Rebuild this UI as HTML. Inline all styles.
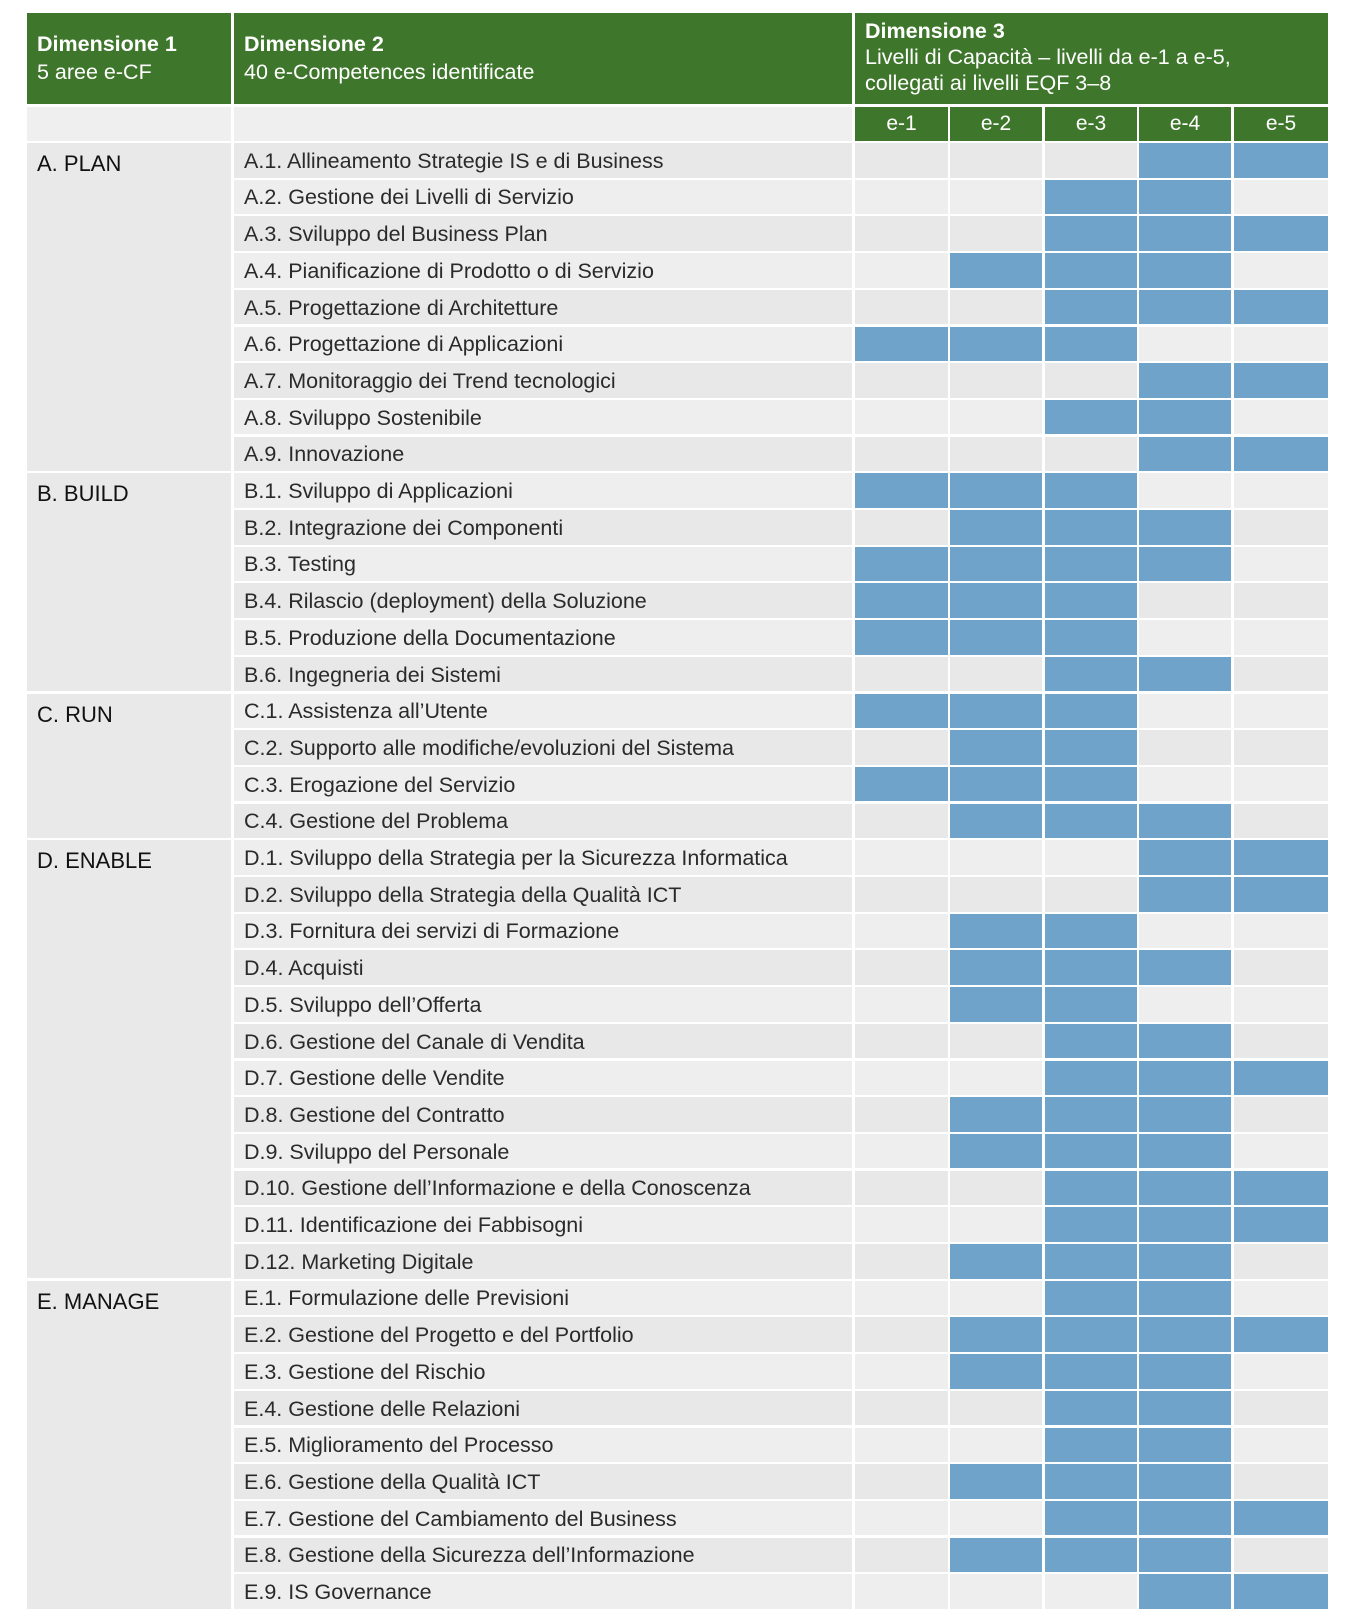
<!DOCTYPE html>
<html><head><meta charset="utf-8">
<style>
body{margin:0;width:1349px;height:1617px;background:#fff;position:relative;overflow:hidden;font-family:"Liberation Sans",sans-serif;}
.c{position:absolute;box-sizing:border-box;}
.g{background:#3E762B;color:#fff;}
.t{display:flex;align-items:center;padding-left:10px;font-size:21.5px;color:#2a2a2a;white-space:nowrap;padding-top:2px;}
.h{font-size:21.5px;line-height:28px;padding:10px 10px;}
.h b{font-weight:bold;}
.lv{display:flex;align-items:center;justify-content:center;font-size:21px;}
</style></head><body>
<div class="c g h" style="left:27px;top:13px;width:204px;height:91px;padding-top:17px"><b>Dimensione 1</b><br>5 aree e-CF</div>
<div class="c g h" style="left:234px;top:13px;width:618px;height:91px;padding-top:17px"><b>Dimensione 2</b><br>40 e-Competences identificate</div>
<div class="c g h" style="left:855px;top:13px;width:473px;height:91px;padding-top:5px;line-height:26px"><b>Dimensione 3</b><br>Livelli di Capacità – livelli da e-1 a e-5,<br>collegati ai livelli EQF 3–8</div>
<div class="c" style="left:27px;top:107px;width:204px;height:34px;background:#efefef"></div>
<div class="c" style="left:234px;top:107px;width:618px;height:34px;background:#efefef"></div>
<div id="root"></div>
<script>
const codes=["A.1.","A.2.","A.3.","A.4.","A.5.","A.6.","A.7.","A.8.","A.9.","B.1.","B.2.","B.3.","B.4.","B.5.","B.6.","C.1.","C.2.","C.3.","C.4.","D.1.","D.2.","D.3.","D.4.","D.5.","D.6.","D.7.","D.8.","D.9.","D.10.","D.11.","D.12.","E.1.","E.2.","E.3.","E.4.","E.5.","E.6.","E.7.","E.8.","E.9."];
const names=["Allineamento Strategie IS e di Business","Gestione dei Livelli di Servizio","Sviluppo del Business Plan","Pianificazione di Prodotto o di Servizio","Progettazione di Architetture","Progettazione di Applicazioni","Monitoraggio dei Trend tecnologici","Sviluppo Sostenibile","Innovazione","Sviluppo di Applicazioni","Integrazione dei Componenti","Testing","Rilascio (deployment) della Soluzione","Produzione della Documentazione","Ingegneria dei Sistemi","Assistenza all’Utente","Supporto alle modifiche/evoluzioni del Sistema","Erogazione del Servizio","Gestione del Problema","Sviluppo della Strategia per la Sicurezza Informatica","Sviluppo della Strategia della Qualità ICT","Fornitura dei servizi di Formazione","Acquisti","Sviluppo dell’Offerta","Gestione del Canale di Vendita","Gestione delle Vendite","Gestione del Contratto","Sviluppo del Personale","Gestione dell’Informazione e della Conoscenza","Identificazione dei Fabbisogni","Marketing Digitale","Formulazione delle Previsioni","Gestione del Progetto e del Portfolio","Gestione del Rischio","Gestione delle Relazioni","Miglioramento del Processo","Gestione della Qualità ICT","Gestione del Cambiamento del Business","Gestione della Sicurezza dell’Informazione","IS Governance"];
const minLevel=[4,3,3,2,3,1,4,3,4,1,2,1,1,1,3,1,2,1,2,4,4,2,2,2,3,3,2,2,3,3,2,3,2,2,3,3,2,3,2,4];
const maxLevel=[5,4,5,4,5,3,5,4,5,3,4,4,3,3,4,3,3,3,4,5,5,3,4,3,4,5,4,4,5,5,4,4,5,4,4,4,4,5,4,5];
const groups=["A. PLAN","B. BUILD","C. RUN","D. ENABLE","E. MANAGE"];
const groupSizes=[9,6,4,12,9];
const levels=["e-1","e-2","e-3","e-4","e-5"];
const root=document.getElementById('root');
const top0=143,pitch=36.7,rowH=34.5;
const colX=[855,950,1045,1139,1234],colW=[93,92,92,92,94];
function add(cls,x,y,w,h,bg,txt){const d=document.createElement('div');d.className='c '+cls;d.style.left=x+'px';d.style.top=y+'px';d.style.width=w+'px';d.style.height=h+'px';if(bg)d.style.background=bg;if(txt)d.textContent=txt;root.appendChild(d);return d;}
levels.forEach((l,j)=>{const d=add('g lv',colX[j],107,colW[j],34,null,l);

});
let start=0;
groups.forEach((g,k)=>{const y=top0+start*pitch;const h=groupSizes[k]*pitch-2.2;
const d=add('',27,y,204,h,'#e9e9e9',g);d.style.padding='8px 10px';d.style.fontSize='22px';d.style.color='#111';


start+=groupSizes[k];});
codes.forEach((c,i)=>{const y=top0+i*pitch;const bg=i%2?'#eeeeee':'#e8e8e8';
const d=add('t',234,y,618,rowH,bg,c+' '+names[i]);


for(let j=0;j<5;j++){const on=(j+1)>=minLevel[i]&&(j+1)<=maxLevel[i];
const cell=add('',colX[j],y,colW[j],rowH,on?'#6FA3C9':bg);

}});
</script>
</body></html>
